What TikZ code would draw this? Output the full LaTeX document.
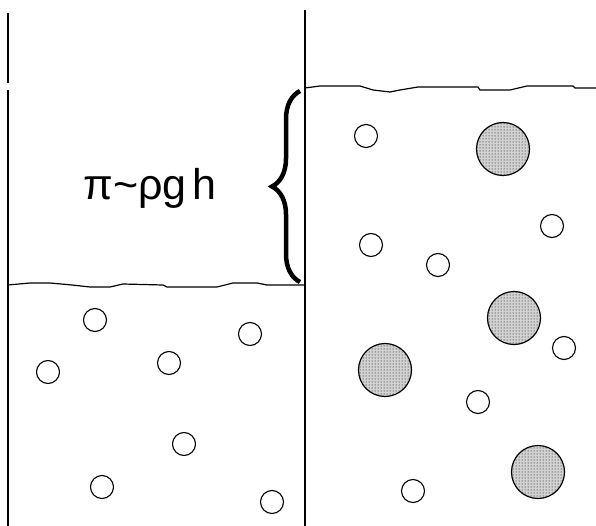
\documentclass[tikz,border=0pt]{standalone}
\usepackage{fontspec}
\setmainfont{Liberation Sans}
\usetikzlibrary{patterns,decorations.pathreplacing}
\tikzset{
  solute/.style={circle, draw, line width=1.1pt, minimum size=23pt, inner sep=0pt},
  macro/.style={circle, draw, line width=1.2pt, minimum size=53pt, inner sep=0pt,
    preaction={fill=gray!35}, pattern=dots},
  wall/.style={line width=1.3pt},
  surface/.style={line width=1.2pt}
}
\begin{document}
\begin{tikzpicture}[x=1pt, y=-1pt]
  \useasboundingbox (0,0) rectangle (596,526);
  % Walls
  \draw[wall] (8,13) -- (8,83);
  \draw[wall] (8,90) -- (8,526);
  \draw[wall] (305,10) -- (305,526);
  % Liquid surfaces
  \draw[surface] (8,285) -- (30,283) -- (50,283) -- (72,285) -- (90,287) -- (110,287)
    -- (123,284) -- (163,285) -- (167,287) -- (217,287) -- (233,283) -- (257,283)
    -- (267,285) -- (305,285);
  \draw[surface] (305,88) -- (320,86) -- (360,86) -- (373,90) -- (390,92) -- (400,90)
    -- (418,87) -- (478,87) -- (480,90) -- (510,90) -- (527,86) -- (573,86)
    -- (575,88) -- (596,88);
  % Pressure head
  \coordinate (hlow) at (300,282);
  \coordinate (hhigh) at (300,91);
  \draw[line width=4.5pt, decorate, decoration={brace, amplitude=28pt}] (hlow) -- (hhigh);
  \node[anchor=base, font=\fontsize{43}{48}\selectfont] (pi) at (150,200)
    {π\char`\~ρg\hspace{6pt}h};
  % Small solutes, left
  \node[solute] (sl1) at (95,320) {};
  \node[solute] (sl2) at (250,334) {};
  \node[solute] (sl3) at (48,372) {};
  \node[solute] (sl4) at (169,363) {};
  \node[solute] (sl5) at (184,444) {};
  \node[solute] (sl6) at (102,487) {};
  \node[solute] (sl7) at (272,502) {};
  % Small solutes, right
  \node[solute] (sr1) at (366,136) {};
  \node[solute] (sr2) at (552,226) {};
  \node[solute] (sr3) at (371,245) {};
  \node[solute] (sr4) at (438,265) {};
  \node[solute] (sr5) at (564,348) {};
  \node[solute] (sr6) at (478,402) {};
  \node[solute] (sr7) at (413,491) {};
  % Macromolecules
  \node[macro] (m1) at (503,149) {};
  \node[macro] (m2) at (514,318) {};
  \node[macro] (m3) at (385,370) {};
  \node[macro] (m4) at (538,472) {};
\end{tikzpicture}
\end{document}
